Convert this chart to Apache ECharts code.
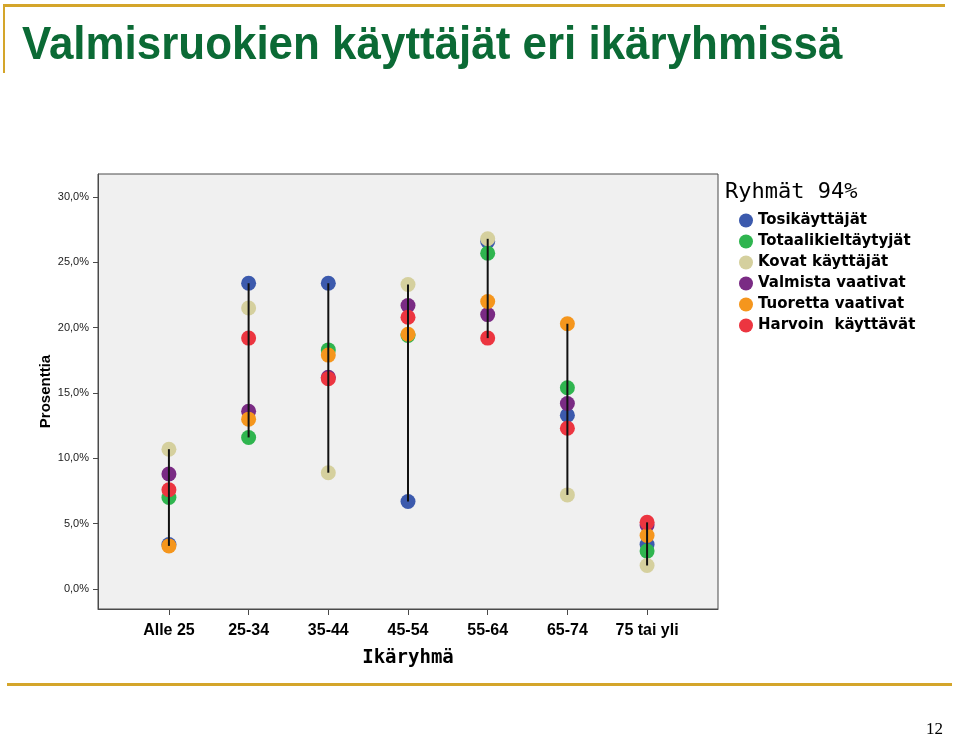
<!DOCTYPE html>
<html>
<head>
<meta charset="utf-8">
<script src="https://cdn.jsdelivr.net/npm/echarts@6/dist/echarts.min.js"></script>
<style>
html,body{margin:0;padding:0;background:#fff;}
#c{width:960px;height:737px;}
</style>
</head>
<body>
<div id="c"></div>
<script>
// ---- Data ----
const categories = ['Alle 25', '25-34', '35-44', '45-54', '55-64', '65-74', '75 tai yli'];
const seriesNames = ['Tosikäyttäjät', 'Totaalikieltäytyjät', 'Kovat käyttäjät', 'Valmista vaativat', 'Tuoretta vaativat', 'Harvoin  käyttävät'];
const tosikayttajat       = [3.4, 23.4, 23.4, 6.7, 26.6, 13.3, 3.4];
const totaalikieltaytyjat = [7.0, 11.6, 18.3, 19.4, 25.7, 15.4, 2.9];
const kovatKayttajat      = [10.7, 21.5, 8.9, 23.3, 26.8, 7.2, 1.8];
const valmistaVaativat    = [8.8, 13.6, 16.2, 21.7, 21.0, 14.2, 4.9];
const tuorettaVaativat    = [3.3, 13.0, 17.9, 19.5, 22.0, 20.3, 4.1];
const harvoinKayttavat    = [7.6, 19.2, 16.1, 20.8, 19.2, 12.3, 5.1];
const yTicks = [0, 5, 10, 15, 20, 25, 30];
const legendTitle = 'Ryhmät 94%';
const xTitle = 'Ikäryhmä';
const yTitle = 'Prosenttia';
const mainTitle = 'Valmisruokien käyttäjät eri ikäryhmissä';
const pageNumber = '12';

const allSeries = [tosikayttajat, totaalikieltaytyjat, kovatKayttajat, valmistaVaativat, tuorettaVaativat, harvoinKayttavat];
const colors = ['#3c5aad', '#2fb54f', '#d5d09e', '#7a2b84', '#f5961d', '#ec3540'];

const ranges = categories.map((c, i) => {
  const vals = allSeries.map(s => s[i]);
  return [i, Math.min(...vals), Math.max(...vals)];
});

const chart = echarts.init(document.getElementById('c'), null, {renderer: 'canvas'});

const scatterSeries = allSeries.map((s, k) => ({
  name: seriesNames[k],
  type: 'scatter',
  symbol: 'circle',
  symbolSize: 15,
  itemStyle: {color: colors[k], opacity: 1},
  z: 2 + k * 0.01,
  data: s.map((v, i) => [i, v])
}));

const option = {
  animation: false,
  backgroundColor: '#ffffff',
  grid: {
    left: 98, top: 174, width: 620, height: 435,
    show: true, backgroundColor: '#f0f0f0', borderColor: '#4a4a4a', borderWidth: 1
  },
  legend: {
    data: seriesNames,
    orient: 'vertical',
    left: 734, top: 208,
    icon: 'circle',
    itemWidth: 14, itemHeight: 14, itemGap: 6,
    textStyle: {fontFamily: 'DejaVu Sans', fontWeight: 'bold', fontSize: 15, color: '#000'}
  },
  xAxis: {
    type: 'value', min: -0.89, max: 6.89,
    name: xTitle, nameLocation: 'middle', nameGap: 40,
    nameTextStyle: {fontFamily: 'DejaVu Sans Mono', fontWeight: 'bold', fontSize: 19, color: '#000'},
    axisLine: {show: true, onZero: false, lineStyle: {color: '#4a4a4a', width: 1}},
    axisTick: {show: true, customValues: categories.map((c, i) => i), length: 6, lineStyle: {color: '#4a4a4a'}},
    axisLabel: {
      customValues: categories.map((c, i) => i),
      formatter: v => categories[Math.round(v)],
      fontFamily: 'Liberation Sans', fontWeight: 'bold', fontSize: 16, color: '#000', margin: 14
    },
    splitLine: {show: false}
  },
  yAxis: {
    type: 'value', min: -1.53, max: 31.76,
    name: yTitle, nameLocation: 'middle', nameGap: 45, nameRotate: 90, nameMoveOverlap: false,
    nameTextStyle: {fontFamily: 'Liberation Sans', fontWeight: 'bold', fontSize: 15, color: '#000'},
    axisLine: {show: true, onZero: false, lineStyle: {color: '#4a4a4a', width: 1}},
    axisTick: {show: true, customValues: yTicks, length: 5, lineStyle: {color: '#4a4a4a'}},
    axisLabel: {
      customValues: yTicks,
      formatter: v => v.toFixed(1).replace('.', ',') + '%',
      fontFamily: 'Liberation Sans', fontSize: 11, color: '#222', margin: 9
    },
    splitLine: {show: false}
  },
  graphic: [
    {type: 'rect', shape: {x: 3, y: 4, width: 942, height: 3}, style: {fill: '#d4a52a'}},
    {type: 'rect', shape: {x: 3, y: 4, width: 2, height: 69}, style: {fill: '#d4a52a'}},
    {type: 'rect', shape: {x: 7, y: 683, width: 945, height: 3}, style: {fill: '#d4a52a'}},
    {type: 'text', x: 22, y: 46, scaleX: 0.955, style: {text: mainTitle, fill: '#0b6a35', font: 'bold 46px "Liberation Sans"', verticalAlign: 'middle', align: 'left'}},
    {type: 'text', x: 725, y: 192, style: {text: legendTitle, fill: '#000', font: '22px "DejaVu Sans Mono"', verticalAlign: 'middle', align: 'left'}},
    {type: 'text', x: 943, y: 730, style: {text: pageNumber, fill: '#000', font: '17px "Liberation Serif"', align: 'right', verticalAlign: 'middle'}}
  ],
  series: scatterSeries.concat([{
    type: 'custom',
    name: 'range',
    z: 10,
    silent: true,
    data: ranges,
    renderItem: (params, api) => {
      const p1 = api.coord([api.value(0), api.value(1)]);
      const p2 = api.coord([api.value(0), api.value(2)]);
      return {type: 'line', shape: {x1: p1[0], y1: p1[1], x2: p2[0], y2: p2[1]}, style: {stroke: '#111', lineWidth: 2}};
    }
  }])
};
chart.setOption(option);
</script>
</body>
</html>
